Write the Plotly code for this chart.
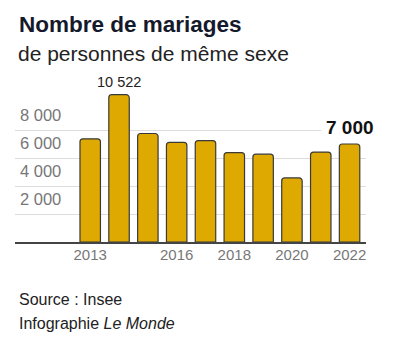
import plotly.graph_objects as go

years = [2013, 2014, 2015, 2016, 2017, 2018, 2019, 2020, 2021, 2022]
mariages = [7367, 10522, 7751, 7113, 7244, 6386, 6272, 4580, 6420, 7000]
x_ticks = [2013, 2016, 2018, 2020, 2022]
y_ticks = [2000, 4000, 6000, 8000]
y_tick_text = ["2 000", "4 000", "6 000", "8 000"]

FONT = "Liberation Sans, Arial, sans-serif"

fig = go.Figure()
fig.add_trace(go.Bar(
    x=years, y=mariages,
    width=0.71,
    marker=dict(color="#DEA900", line=dict(color="#3a3a3a", width=1.2), cornerradius=3),
    hoverinfo="skip",
))

fig.update_layout(
    width=400, height=342,
    margin=dict(l=15, r=34, t=88, b=100),
    paper_bgcolor="white", plot_bgcolor="white",
    showlegend=False,
    font=dict(family=FONT),
    xaxis=dict(
        range=[2010.39, 2022.57],
        tickvals=x_ticks, ticktext=[str(v) for v in x_ticks],
        tickfont=dict(size=15, color="#777777"),
        showgrid=False, zeroline=False,
        showline=True, linecolor="#444444", linewidth=2,
        ticks="", ticklabelstandoff=-2,
        fixedrange=True,
    ),
    yaxis=dict(
        range=[0, 11000],
        tickvals=y_ticks, ticktext=y_tick_text,
        tickfont=dict(size=16.5, color="#777777"),
        ticklabelposition="inside top",
        ticklabelshift=-3,
        ticklabelstandoff=2,
        showgrid=True, gridcolor="#dddddd", gridwidth=1,
        zeroline=False, showline=False, ticks="",
        fixedrange=True,
    ),
)

plot_h = 342 - 88 - 100
def py(pix):
    return (342 - 100 - pix) / plot_h

fig.add_annotation(text="<b>Nombre de mariages</b>", xref="paper", x=(17 - 15) / 351, xanchor="left",
                   yref="paper", y=py(25), yanchor="middle", showarrow=False,
                   font=dict(size=22.5, color="#14192b", family=FONT))
fig.add_annotation(text="de personnes de même sexe", xref="paper", x=(16 - 15) / 351, xanchor="left",
                   yref="paper", y=py(53), yanchor="middle", showarrow=False,
                   font=dict(size=21, color="#222222", family=FONT))
fig.add_annotation(text="10 522", x=years[1], y=mariages[1], yshift=13, xref="x", yref="y",
                   yanchor="middle", showarrow=False,
                   font=dict(size=14.5, color="#222222", family=FONT))
fig.add_annotation(text="<b>7 000</b>", x=years[-1], y=mariages[-1], yshift=17, xref="x", yref="y",
                   yanchor="middle", showarrow=False, bgcolor="white", borderpad=4,
                   font=dict(size=19, color="#111111", family=FONT))
fig.add_annotation(text="Source : Insee", xref="paper", x=(17 - 15) / 351, xanchor="left",
                   yref="paper", y=py(299), yanchor="middle", showarrow=False,
                   font=dict(size=16, color="#222222", family=FONT))
fig.add_annotation(text="Infographie <i>Le Monde</i>", xref="paper", x=(17 - 15) / 351, xanchor="left",
                   yref="paper", y=py(323), yanchor="middle", showarrow=False,
                   font=dict(size=16, color="#222222", family=FONT))

fig.write_html("out.html", config={"displayModeBar": False})
